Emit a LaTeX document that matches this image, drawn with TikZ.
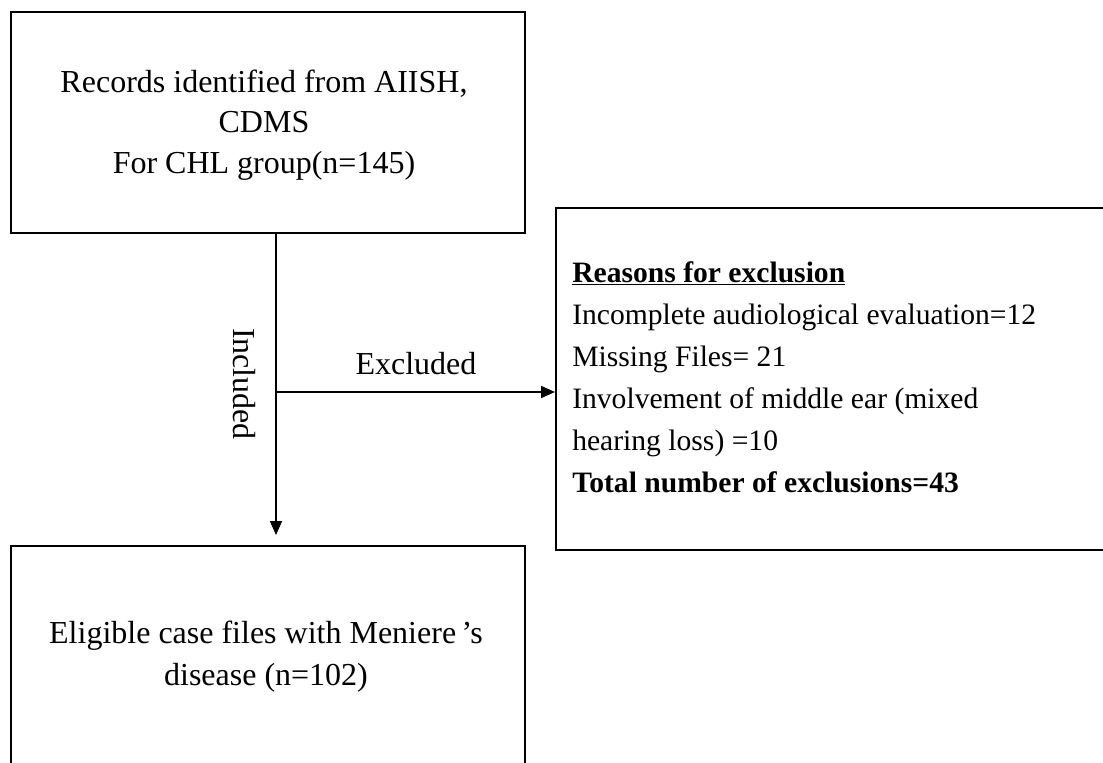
\documentclass[tikz,border=0pt]{standalone}
\usepackage{fontspec}
\setmainfont{Liberation Serif}
\usetikzlibrary{arrows.meta}
\begin{document}
\begin{tikzpicture}[x=0.75pt,y=-0.75pt,
  box/.style={draw,line width=1.3pt,rectangle,inner sep=0pt,anchor=north west},
  txt/.style={font=\fontsize{24}{30.5}\selectfont,inner sep=0pt},
  listtxt/.style={font=\fontsize{22.2}{31.5}\selectfont,inner sep=0pt},
  arr/.style={line width=1.2pt,-{Triangle[length=10.5pt,width=9pt]}}]
\useasboundingbox (0,0) rectangle (1103,763);
\clip (0,0) rectangle (1103,763);
% boxes
\node[box,minimum width=385.5pt,minimum height=165.75pt] (records) at (10,11) {};
\node[box,minimum width=423.75pt,minimum height=256.5pt] (excl) at (555,207) {};
\node[box,minimum width=385.5pt,minimum height=191.25pt] (elig) at (10,545) {};
% box texts
\node[txt,align=center] (recordsText) at (264,125)
  {Records identified from AIISH,\\CDMS\\For CHL group(n=145)};
\node[listtxt,align=left,anchor=west] (exclText) at (572,377)
  {\textbf{\underline{Reasons for exclusion}}\\
   Incomplete audiological evaluation=12\\
   Missing Files= 21\\
   Involvement of middle ear (mixed\\
   hearing loss) =10\\
   \textbf{Total number of exclusions=43}};
\node[txt,font=\fontsize{24}{31.5}\selectfont,align=center] (eligText) at (266,657)
  {Eligible case files with Meniere\,’s\\disease (n=102)};
% connectors
\coordinate (split) at (276,392);
\draw[arr,shorten >=7.5pt] (records.south -| split) -- (elig.north -| split);
\draw[arr] (split) -- (excl.west |- split);
% connector labels
\node[txt,rotate=-90] (inclLabel) at (244,384) {Included};
\node[txt] (exclLabel) at (416,364) {Excluded};
\end{tikzpicture}
\end{document}
